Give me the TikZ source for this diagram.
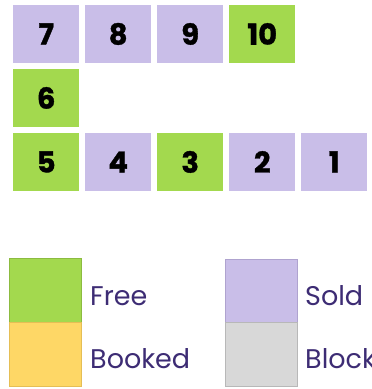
\documentclass[tikz,border=0pt]{standalone}
\usepackage{fontspec}
\setmainfont{Poppins}[BoldFeatures={FakeBold=1.2}]
\definecolor{free}{HTML}{A3D94E}
\definecolor{freeedge}{HTML}{8CBB40}
\definecolor{sold}{HTML}{C9BEE8}
\definecolor{soldedge}{HTML}{AFA3CF}
\definecolor{booked}{HTML}{FED766}
\definecolor{bookededge}{HTML}{E5BE55}
\definecolor{blocked}{HTML}{D8D8D8}
\definecolor{blockededge}{HTML}{B8B8B8}
\definecolor{legtext}{HTML}{3D2C74}
\begin{document}
\begin{tikzpicture}[x=1pt,y=-1pt,
  seat/.style={minimum width=66pt,minimum height=57.5pt,inner sep=0pt,anchor=north west,
    font=\fontsize{29}{29}\selectfont\bfseries,text=black},
  freeseat/.style={seat,fill=free},
  soldseat/.style={seat,fill=sold},
  legbox/.style={minimum width=72pt,minimum height=64pt,inner sep=0pt,anchor=north west},
  legtxt/.style={anchor=base west,inner sep=0pt,text=legtext,font=\fontsize{27}{27}\selectfont}]
\useasboundingbox (0,0) rectangle (372,389);
\fill[white] (0,0) rectangle (372,389);
% row 1
\node[soldseat] (s7) at (13,5) {7};
\node[soldseat] (s8) at (85,5) {8};
\node[soldseat] (s9) at (157,5) {9};
\node[freeseat] (s10) at (229,5) {10};
% row 2
\node[freeseat] (s6) at (13,69) {6};
% row 3
\node[freeseat] (s5) at (13,133) {5};
\node[soldseat] (s4) at (85,133) {4};
\node[freeseat] (s3) at (157,133) {3};
\node[soldseat] (s2) at (229,133) {2};
\node[soldseat] (s1) at (301,133) {1};
% legend
\node[legbox,fill=free,draw=freeedge,line width=0.8pt] (lfree) at (9,257.5) {};
\node[legbox,fill=booked,draw=bookededge,line width=0.8pt] (lbooked) at (9,322) {};
\node[legbox,fill=sold,draw=soldedge,line width=0.8pt] (lsold) at (225,258.5) {};
\node[legbox,fill=blocked,draw=blockededge,line width=0.8pt] (lblocked) at (225,322) {};
\node[legtxt] (tfree) at (90,305) {Free};
\node[legtxt] (tbooked) at (90,368) {Booked};
\node[legtxt] (tsold) at (305,305) {Sold};
\node[legtxt] (tblocked) at (305,368) {Blocked};
\end{tikzpicture}
\end{document}
